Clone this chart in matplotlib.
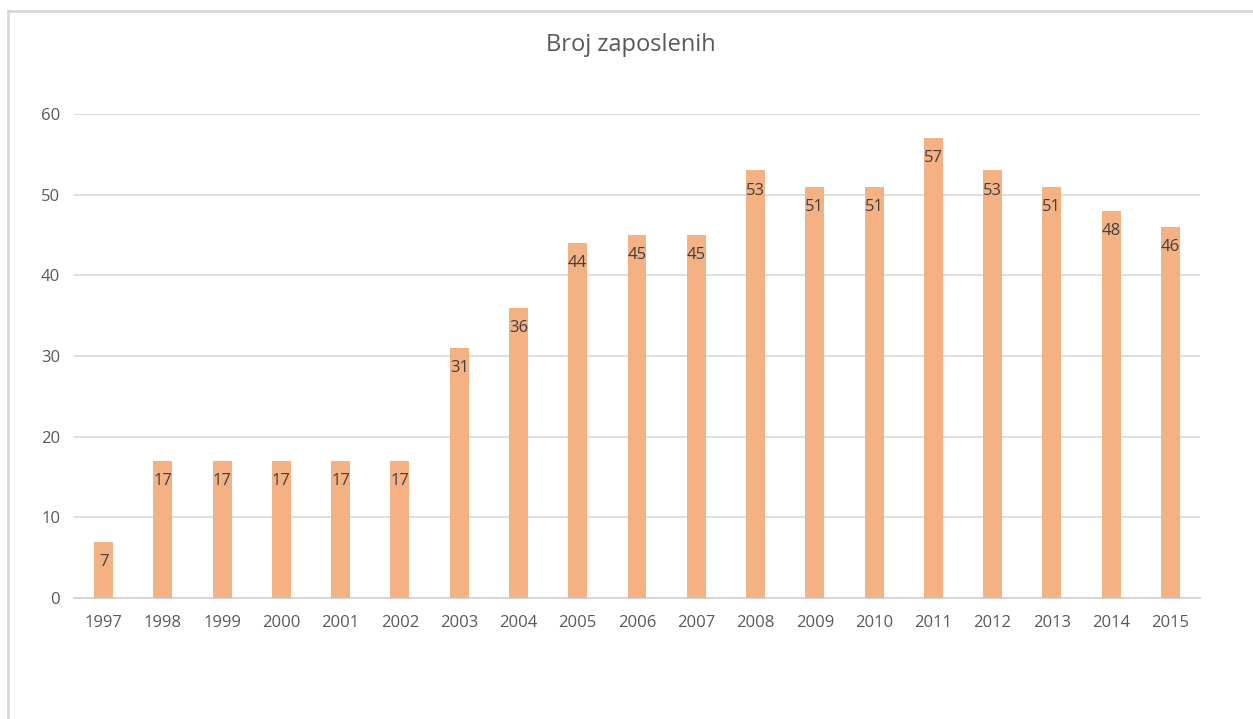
import matplotlib.pyplot as plt
from matplotlib.lines import Line2D

years = [str(y) for y in range(1997, 2016)]
employees = [7, 17, 17, 17, 17, 17, 31, 36, 44, 45, 45, 53, 51, 51, 57, 53, 51, 48, 46]

plt.rcParams['font.family'] = ['Open Sans', 'DejaVu Sans']

W, H = 1253, 719
fig = plt.figure(figsize=(W / 100, H / 100), dpi=100)

# outer chart frame (partly cut off by the screenshot)
fig.add_artist(Line2D([8 / W, 8 / W], [0, 1 - 11 / H], color='#D9D9D9', lw=2, transform=fig.transFigure))
fig.add_artist(Line2D([8 / W, 1], [1 - 11 / H, 1 - 11 / H], color='#D9D9D9', lw=2, transform=fig.transFigure))

ax = fig.add_axes([74 / W, 1 - 598 / H, (1200 - 74) / W, (598 - 114) / H])

x = range(len(years))
bars = ax.bar(x, employees, width=0.32, color='#F4B183', zorder=3)

for xi, v in zip(x, employees):
    ax.annotate(str(v), (xi, v), xytext=(0, -14.5), textcoords='offset points',
                ha='center', va='center', fontsize=12, color='#404040', zorder=4)

ax.set_xlim(-0.5, len(years) - 0.5)
ax.set_ylim(0, 60)
ax.set_yticks(range(0, 61, 10))
ax.set_xticks(list(x))
ax.set_xticklabels(years)
ax.grid(axis='y', color='#D9D9D9', lw=1.2, zorder=0)
for s in ['top', 'right', 'left']:
    ax.spines[s].set_visible(False)
ax.spines['bottom'].set_color('#D0D0D0')
ax.spines['bottom'].set_linewidth(1.2)
ax.tick_params(length=0, labelsize=12, labelcolor='#595959')
ax.tick_params(axis='y', pad=10)
ax.tick_params(axis='x', pad=12)

fig.text(631 / W, 1 - 45 / H, 'Broj zaposlenih', ha='center', va='center',
         fontsize=17, color='#595959')

fig.savefig('out.png', dpi=100)
